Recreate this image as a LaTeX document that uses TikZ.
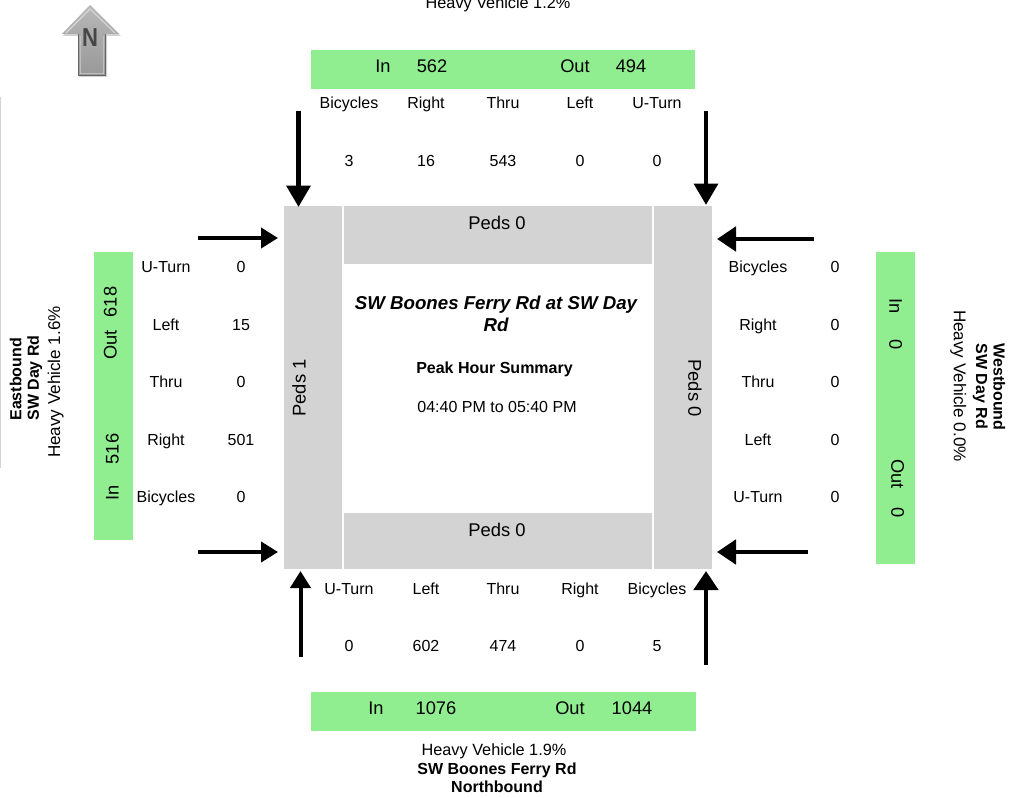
\documentclass[tikz,border=0pt]{standalone}
\usepackage{fontspec}
\setmainfont{Liberation Sans}
\usetikzlibrary{arrows.meta}
\definecolor{lg}{HTML}{90EE90}
\definecolor{pg}{HTML}{D3D3D3}
\tikzset{
 x=0.75pt,y=-0.75pt,
 green box/.style={fill=lg,draw=none},
 gray box/.style={fill=pg,draw=none},
 lab/.style={font=\fontsize{12}{13}\selectfont,inner sep=0,text height=8.6pt,text depth=0pt},
 heavy/.style={font=\fontsize{12.2}{13}\selectfont,inner sep=0,text height=8.7pt,text depth=0pt},
 heavy side/.style={font=\fontsize{12.8}{14}\selectfont,inner sep=0,text height=9.2pt,text depth=0pt},
 big/.style={font=\fontsize{13.7}{15}\selectfont,inner sep=0,text height=9.8pt,text depth=0pt},
 peds/.style={font=\fontsize{13.8}{15}\selectfont,inner sep=0,text height=9.9pt,text depth=0pt},
 bold lab/.style={font=\fontsize{12}{13.2}\selectfont\bfseries,inner sep=0},
 flow/.style={line width=3pt,-{Triangle[length=12.75pt,width=15pt]}},
 flow mid/.style={line width=3.6pt,-{Triangle[length=14.25pt,width=18pt]}},
 flow big/.style={line width=3.7pt,-{Triangle[length=16pt,width=17.5pt]}},
}
\begin{document}
\begin{tikzpicture}
\useasboundingbox (0,0) rectangle (1021,798);
% north arrow
\fill[black!18] (91,7) -- (121,36) -- (107,36) -- (107,77) -- (79,77) -- (79,36) -- (63,36) -- cycle;
\path[top color=black!28,bottom color=black!40]
 (90,5) -- (119,34) -- (105,34) -- (105,75) -- (78,75) -- (78,34) -- (62,34) -- cycle;
\draw[line width=0.6pt,draw=black!60,line join=miter] (105,34) -- (105,75) -- (78,75) -- (78,34);
\draw[line width=0.8pt,draw=black!16] (66,33) -- (90,9) -- (115,33);
\draw[line width=0.5pt,draw=black!25] (80,36) -- (80,73) -- (103,73) -- (103,36);
\node[inner sep=0,font=\fontsize{19.5}{20}\selectfont\bfseries,text=black!72,text height=14pt,text depth=0pt,transform shape,xscale=.85] (north) at (90,37.5) {N};
% left rule
\fill[pg] (0,97) rectangle (1,468);
% green bands
\path[green box] (311,50) rectangle (695,89);
\path[green box] (311,692) rectangle (696,731);
\path[green box] (94,252) rectangle (133,540);
\path[green box] (876,252) rectangle (915,564);
% gray bands
\path[gray box] (284,206) rectangle (342,569);
\path[gray box] (654,206) rectangle (712,569);
\path[gray box] (344,206) rectangle (652,264);
\path[gray box] (344,513) rectangle (652,569);
\node[peds] (pn) at (497,223) {Peds 0};
\node[peds] (ps) at (497,530) {Peds 0};
\node[peds,rotate=90] (pw) at (299,388) {Peds 1};
\node[peds,rotate=-90] (pe) at (695,388) {Peds 0};
% title
\node[inner sep=0,align=center,font=\fontsize{14}{16}\selectfont\bfseries\itshape] (title) at (496,314) {SW Boones Ferry Rd at SW Day\\Rd};
\node[bold lab,text height=8.6pt,text depth=0pt] (peak) at (494.5,368) {Peak Hour Summary};
\node[lab] (time) at (497,407) {04:40 PM to 05:40 PM};
% north
\node[heavy] (hn) at (498,3) {Heavy Vehicle 1.2\%};
\node[big] (ni) at (383,66) {In};
\node[big] (nv) at (432,66) {562};
\node[big] (no) at (575,66) {Out};
\node[big] (nw) at (631,66) {494};
\foreach \x/\a/\b in {349/Bicycles/3,426/Right/16,503/Thru/543,580/Left/0,657/U-Turn/0}{
 \node[lab] (nl\x) at (\x,103) {\a};
 \node[lab] (nc\x) at (\x,161) {\b};
}
% south
\foreach \x/\a/\b in {349/U-Turn/0,426/Left/602,503/Thru/474,580/Right/0,657/Bicycles/5}{
 \node[lab] (sl\x) at (\x,589) {\a};
 \node[lab] (sc\x) at (\x,646) {\b};
}
\node[big] (si) at (376,708) {In};
\node[big] (sv) at (436,708) {1076};
\node[big] (so) at (570,708) {Out};
\node[big] (sw) at (632,708) {1044};
\node[heavy] (hs) at (494,750) {Heavy Vehicle 1.9\%};
\node[bold lab,align=center] (ns) at (497,778) {SW Boones Ferry Rd\\Northbound};
% west
\foreach \y/\a/\b in {267/U-Turn/0,325/Left/15,382/Thru/0,440/Right/501,497/Bicycles/0}{
 \node[lab] (wl\y) at (166,\y) {\a};
 \node[lab] (wc\y) at (241,\y) {\b};
}
\node[big,rotate=90] (wi) at (112,493) {In};
\node[big,rotate=90] (wv) at (112,449) {516};
\node[big,rotate=90] (wo) at (110,345) {Out};
\node[big,rotate=90] (wu) at (110,302) {618};
\node[bold lab,rotate=90,align=left] (name w) at (26,378) {Eastbound\\SW Day Rd};
\node[heavy side,rotate=90] (hw) at (54,382) {Heavy Vehicle 1.6\%};
% east
\foreach \y/\a in {267/Bicycles,325/Right,382/Thru,440/Left,497/U-Turn}{
 \node[lab] (el\y) at (758,\y) {\a};
 \node[lab] (ec\y) at (835,\y) {0};
}
\node[big,rotate=-90] (ei) at (896,306) {In};
\node[big,rotate=-90] (ev) at (896,345) {0};
\node[big,rotate=-90] (eo) at (898,474) {Out};
\node[big,rotate=-90] (eu) at (898,513) {0};
\node[bold lab,rotate=-90,align=left] (name e) at (989,387) {Westbound\\SW Day Rd};
\node[heavy side,rotate=-90] (he) at (960,386) {Heavy Vehicle 0.0\%};
% arrows
\coordinate (a1s) at (298.5,111); \coordinate (a1e) at (298.5,207);
\coordinate (a2s) at (706,111); \coordinate (a2e) at (706,205);
\coordinate (a3s) at (198,238); \coordinate (a3e) at (278,238);
\coordinate (a4s) at (814,239); \coordinate (a4e) at (717,239);
\coordinate (a5s) at (198,552); \coordinate (a5e) at (278,552);
\coordinate (a6s) at (808,552); \coordinate (a6e) at (717,552);
\coordinate (a7s) at (300.5,657); \coordinate (a7e) at (300.5,571);
\coordinate (a8s) at (706,665); \coordinate (a8e) at (706,571);
\draw[flow big] (a1s) -- (a1e);
\draw[flow big] (a2s) -- (a2e);
\draw[flow] (a3s) -- (a3e);
\draw[flow mid] (a4s) -- (a4e);
\draw[flow] (a5s) -- (a5e);
\draw[flow mid] (a6s) -- (a6e);
\draw[flow] (a7s) -- (a7e);
\draw[flow mid] (a8s) -- (a8e);
\end{tikzpicture}
\end{document}
